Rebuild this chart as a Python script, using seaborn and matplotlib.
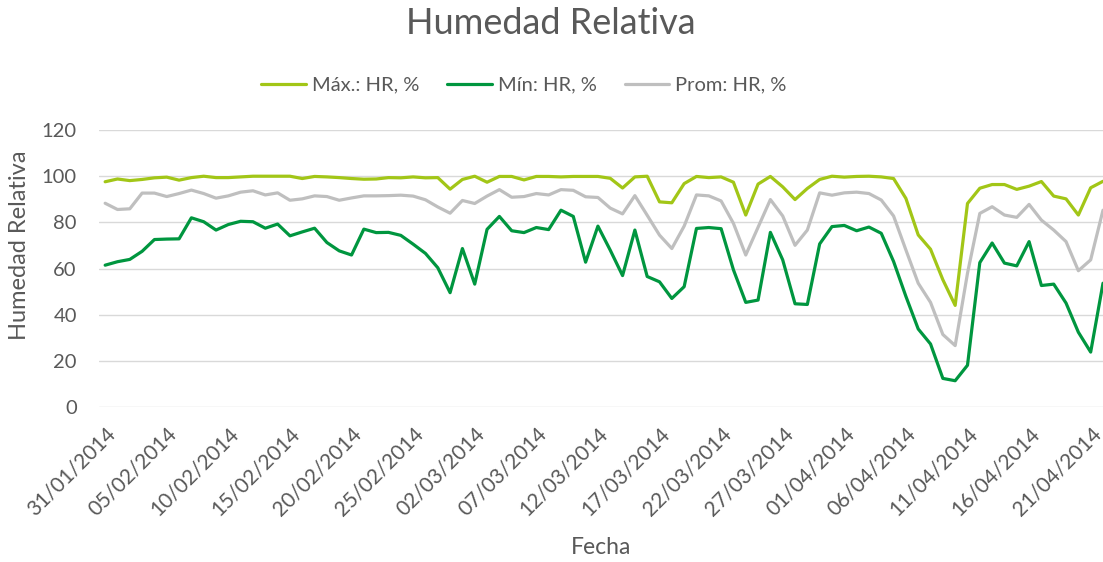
import numpy as np
import pandas as pd
import seaborn as sns
import matplotlib.pyplot as plt

# --- datos (31/01/2014 - 22/04/2014, diarios) ---
fechas = pd.date_range("2014-01-31", "2014-04-22", freq="D")

hr_max = [97.6, 98.8, 98.1, 98.6, 99.3, 99.6, 98.3, 99.4, 100, 99.4,
          99.4, 99.7, 100, 100, 100, 100, 99.0, 99.9, 99.7, 99.4,
          99.0, 98.7, 98.8, 99.4, 99.3, 99.7, 99.3, 99.4, 94.4, 98.6,
          100, 97.4, 99.9, 99.9, 98.4, 99.9, 99.9, 99.7, 99.9, 99.9,
          99.9, 99.1, 94.9, 99.7, 100, 88.9, 88.5, 96.8, 99.9, 99.4,
          99.7, 97.4, 83.2, 96.6, 99.9, 95.4, 89.9, 94.7, 98.6, 100,
          99.6, 99.9, 100, 99.7, 99.0, 90.4, 74.6, 68.4, 55.2, 44.1,
          88.2, 94.8, 96.4, 96.4, 94.3, 95.7, 97.7, 91.4, 90.2, 83.2,
          95.0, 97.8]

hr_min = [61.5, 63.0, 64.0, 67.5, 72.6, 72.8, 72.9, 82.0, 80.3, 76.7,
          79.1, 80.5, 80.3, 77.5, 79.3, 74.2, 75.9, 77.5, 71.3, 67.7,
          65.9, 77.1, 75.6, 75.7, 74.4, 70.6, 66.6, 60.4, 49.6, 68.7,
          53.3, 77.0, 82.6, 76.4, 75.6, 77.8, 76.9, 85.3, 82.6, 62.8,
          78.4, 68.0, 57.0, 76.7, 56.6, 54.3, 47.1, 52.2, 77.4, 77.8,
          77.3, 59.5, 45.4, 46.4, 75.7, 63.8, 44.8, 44.5, 70.7, 78.2,
          78.7, 76.4, 78.0, 75.3, 63.1, 48.0, 33.9, 27.4, 12.5, 11.5,
          18.2, 62.6, 71.1, 62.4, 61.2, 71.7, 52.7, 53.3, 45.1, 32.5,
          23.9, 53.7]

hr_prom = [88.3, 85.6, 85.9, 92.7, 92.7, 91.2, 92.5, 94.0, 92.5, 90.5,
           91.5, 93.1, 93.7, 91.9, 92.8, 89.6, 90.2, 91.5, 91.2, 89.6,
           90.6, 91.5, 91.5, 91.6, 91.8, 91.4, 89.8, 86.7, 84.0, 89.5,
           88.2, 91.4, 94.2, 90.9, 91.2, 92.5, 91.9, 94.2, 93.9, 91.1,
           90.8, 86.2, 83.7, 91.6, 83.1, 74.5, 68.7, 78.4, 91.9, 91.5,
           89.3, 79.6, 65.9, 77.9, 89.9, 82.8, 70.1, 76.7, 92.8, 91.8,
           92.8, 93.1, 92.5, 89.7, 82.8, 68.1, 53.7, 45.4, 31.5, 26.7,
           58.0, 83.9, 86.8, 83.2, 82.2, 87.8, 81.0, 76.7, 71.7, 59.1,
           63.8, 85.3]

series = ["Máx.: HR, %", "Mín: HR, %", "Prom: HR, %"]
colores = ["#A2C617", "#00963F", "#BFBFBF"]

df = pd.DataFrame({"dia": np.arange(len(fechas)),
                   series[0]: hr_max, series[1]: hr_min, series[2]: hr_prom})
df_long = df.melt(id_vars="dia", var_name="serie", value_name="hr")

sns.set_style("white")
plt.rcParams["font.family"] = ["Lato", "DejaVu Sans"]
gris = "#595959"

fig = plt.figure(figsize=(11.03, 5.62), dpi=100)
ax = fig.add_axes([99 / 1103, (562 - 407.3) / 562, 1004 / 1103, 277.3 / 562])

sns.lineplot(data=df_long, x="dia", y="hr", hue="serie", hue_order=series,
             palette=colores, linewidth=2.3, ax=ax, legend=True)

ax.set_xlim(-0.5, len(fechas) - 1)
ax.set_ylim(0, 120)
ax.set_yticks(range(0, 121, 20))
ticks = list(range(0, len(fechas), 5))
ax.set_xticks(ticks)
ax.set_xticklabels([fechas[i].strftime("%d/%m/%Y") for i in ticks])
ax.grid(axis="y", color="#D9D9D9", linewidth=1)
ax.set_axisbelow(True)
for s in ax.spines.values():
    s.set_visible(False)

ax.tick_params(axis="y", labelsize=14.5, colors=gris, pad=16, length=0)
ax.tick_params(axis="x", labelsize=15, colors=gris, pad=12, length=0)
for lbl in ax.get_xticklabels():
    lbl.set_rotation(45)
    lbl.set_ha("right")
    lbl.set_va("top")
    lbl.set_rotation_mode("anchor")

ax.set_xlabel("Fecha", fontsize=16.5, color=gris, va="center")
ax.xaxis.set_label_coords(0.5, (407.3 - 547) / 277.3)
ax.set_ylabel("Humedad Relativa", fontsize=17, color=gris, va="center")
ax.yaxis.set_label_coords((20 - 99) / 1004, (407.3 - 245) / 277.3)

fig.text(551 / 1103, 1 - 23 / 562, "Humedad Relativa", ha="center", va="center",
         fontsize=26, color=gris)

handles, labels = ax.get_legend_handles_labels()
ax.legend(handles, labels, loc="center", bbox_to_anchor=(524 / 1103, 1 - 85 / 562),
          bbox_transform=fig.transFigure, ncol=3, frameon=False, fontsize=14.5,
          labelcolor=gris, handlelength=2.2, handletextpad=0.3, columnspacing=1.4)

fig.savefig("out.png", dpi=100)
